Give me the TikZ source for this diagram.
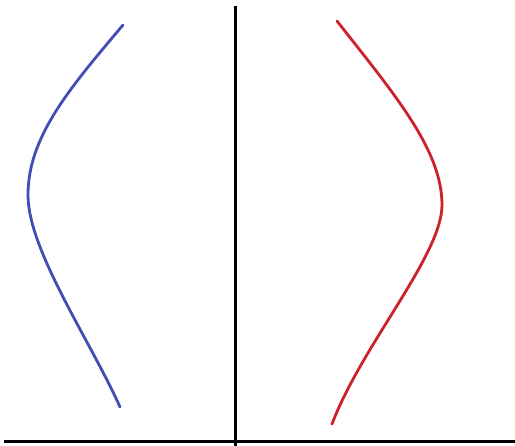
\documentclass[tikz,border=0pt]{standalone}
\definecolor{cblue}{RGB}{66,78,182}
\definecolor{cred}{RGB}{204,34,44}
\begin{document}
\begin{tikzpicture}[x=1pt,y=-1pt,
  axis/.style={line width=3pt,black},
  curve/.style={line width=2.8pt,line cap=round}]
\useasboundingbox (0,0) rectangle (515,446);
\fill[white] (0,0) rectangle (515,446);
\coordinate (vt) at (235.5,6);
\coordinate (vb) at (235.5,446);
\coordinate (hl) at (4,442);
\coordinate (hr) at (515,442);
\draw[axis] (vt) -- (vb);
\draw[axis] (hl) -- (hr);
\coordinate (b1) at (123,25);
\coordinate (b2) at (28,195);
\coordinate (b3) at (120,407);
\coordinate (r1) at (337,21);
\coordinate (r2) at (442,205);
\coordinate (r3) at (332,424);
\draw[curve,cblue] (b1) .. controls (69,89) and (28,137) .. (b2)
  .. controls (28,250) and (90,340) .. (b3);
\draw[curve,cred] (r1) .. controls (395,95) and (442,150) .. (r2)
  .. controls (442,255) and (362,345) .. (r3);
\end{tikzpicture}
\end{document}
